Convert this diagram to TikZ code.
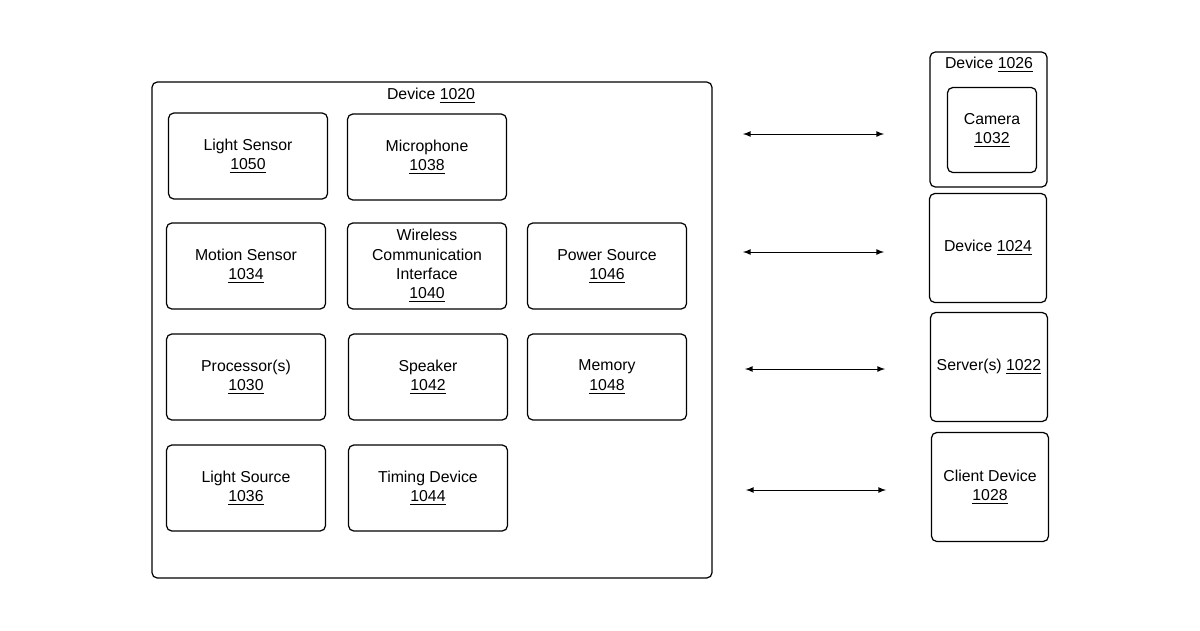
\documentclass[tikz,border=0pt]{standalone}
\usepackage{fontspec}
\setmainfont{Liberation Sans}
\usetikzlibrary{positioning}

\begin{document}
\begin{tikzpicture}[
    x=0.02cm, y=-0.02cm,
    every node/.style = {font=\fontsize{9}{11}\selectfont},
    unit/.style    = {draw, rounded corners=3pt, line width=0.7pt, align=center,
                      minimum width=3.18cm, minimum height=1.72cm},
    outer/.style   = {draw, rounded corners=3pt, line width=0.7pt},
    remote/.style  = {draw, rounded corners=3pt, line width=0.7pt, align=center,
                      minimum width=2.34cm, minimum height=2.18cm},
    link/.style    = {draw, <->, >=latex, line width=0.5pt},
  ]
  \useasboundingbox (0,0) rectangle (1200,630);

  % main device
  \draw[outer] (152,82) rectangle (712,578);
  \node (dev1020) at (431,96) {Device \underline{1020}};
  \node[unit] (lsensor) at (248,156) {Light Sensor\\\underline{1050}};
  \node[unit] (mic) at (427,157) {Microphone\\\underline{1038}};
  \node[unit] (motion) at (246,266) {Motion Sensor\\\underline{1034}};
  \node[unit] (wireless) at (427,266) {Wireless\\Communication\\Interface\\\underline{1040}};
  \node[unit] (power) at (607,266) {Power Source\\\underline{1046}};
  \node[unit] (proc) at (246,377) {Processor(s)\\\underline{1030}};
  \node[unit] (speaker) at (428,377) {Speaker\\\underline{1042}};
  \node[unit] (memory) at (607,377) {Memory\\\underline{1048}};
  \node[unit] (lsource) at (246,488) {Light Source\\\underline{1036}};
  \node[unit] (timing) at (428,488) {Timing Device\\\underline{1044}};

  % remote devices
  \draw[outer] (930,52) rectangle (1047,187);
  \node (dev1026) at (989,65) {Device \underline{1026}};
  \node[unit, minimum width=1.78cm, minimum height=1.7cm] (camera) at (992,130) {Camera\\\underline{1032}};
  \node[remote] (dev1024) at (988,248) {Device \underline{1024}};
  \node[remote] (server) at (989,367) {Server(s) \underline{1022}};
  \node[remote] (client) at (990,487) {Client Device\\\underline{1028}};

  % links
  \coordinate (a1) at (743,134); \coordinate (b1) at (884,134);
  \coordinate (a2) at (743,252); \coordinate (b2) at (884,252);
  \coordinate (a3) at (745,369); \coordinate (b3) at (885,369);
  \coordinate (a4) at (746,490); \coordinate (b4) at (886,490);
  \draw[link] (a1) -- (b1);
  \draw[link] (a2) -- (b2);
  \draw[link] (a3) -- (b3);
  \draw[link] (a4) -- (b4);
\end{tikzpicture}
\end{document}
